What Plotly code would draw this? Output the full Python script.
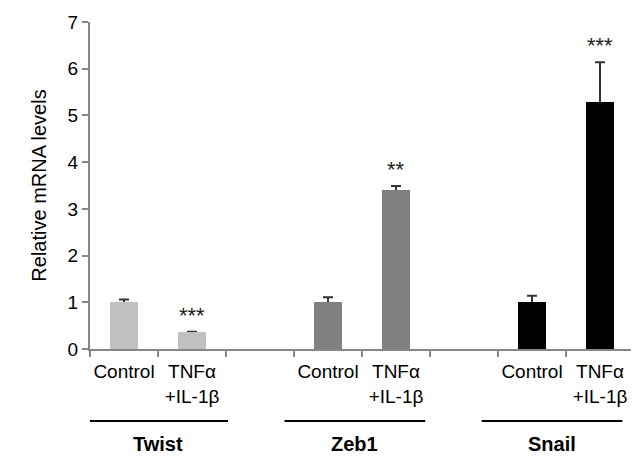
import plotly.graph_objects as go

genes = ["Twist", "Zeb1", "Snail"]
conditions = ["Control", "TNFα<br>+IL-1β"]
twist_vals = [1.00, 0.36]
twist_err = [0.06, 0.01]
zeb1_vals = [1.00, 3.41]
zeb1_err = [0.11, 0.08]
snail_vals = [1.00, 5.29]
snail_err = [0.14, 0.85]
twist_sig = ["", "***"]
zeb1_sig = ["", "**"]
snail_sig = ["", "***"]
colors = ["#c0c0c0", "#808080", "#000000"]
y_ticks = [0, 1, 2, 3, 4, 5, 6, 7]

FONT = "Liberation Sans, Arial, sans-serif"
series = [
    (twist_vals, twist_err, twist_sig),
    (zeb1_vals, zeb1_err, zeb1_sig),
    (snail_vals, snail_err, snail_sig),
]

fig = go.Figure()
annotations = []
shapes = []
label_pos = []
label_text = []
for g, (vals, errs, sigs) in enumerate(series):
    xs = [3 * g + i for i in range(len(vals))]
    # error bars on the base subplot (drawn beneath the bars, so only the upper whisker shows)
    fig.add_trace(go.Scatter(
        x=xs, y=vals, mode="markers", marker=dict(size=1, opacity=0),
        error_y=dict(type="data", array=errs, symmetric=False, arrayminus=[0.05] * len(errs),
                     color="#333333", thickness=2, width=5),
        xaxis="x", yaxis="y", showlegend=False, hoverinfo="skip",
    ))
    fig.add_trace(go.Bar(
        x=xs, y=vals, width=0.41, marker=dict(color=colors[g], line=dict(width=0)),
        name=genes[g], showlegend=False, xaxis="x2", yaxis="y",
    ))
    for x, v, e, s in zip(xs, vals, errs, sigs):
        label_pos.append(x)
        if s:
            annotations.append(dict(x=x, y=v + e, xref="x", yref="y", text=s, showarrow=False,
                                    yanchor="bottom", yshift=2,
                                    font=dict(family=FONT, size=22, color="#222")))
    label_text += conditions
    x0 = 2.9 * g - 0.54
    shapes.append(dict(type="line", xref="x", yref="paper", x0=x0, x1=x0 + 2.07,
                       y0=-0.22, y1=-0.22, line=dict(color="black", width=2)))
    annotations.append(dict(x=x0 + 1.035, y=-0.29, xref="x", yref="paper", text="<b>%s</b>" % genes[g],
                            showarrow=False, yanchor="middle",
                            font=dict(family=FONT, size=20, color="black")))

fig.update_layout(
    width=631, height=450,
    margin=dict(l=82, r=5, t=13.5, b=108.5, autoexpand=False),
    plot_bgcolor="white", paper_bgcolor="white",
    font=dict(family=FONT, size=19, color="black"),
    bargap=0,
    xaxis=dict(range=[-0.5, 7.5], tickmode="array", automargin=False,
               tickvals=[i - 0.5 for i in range(9)], showticklabels=False,
               ticks="outside", ticklen=6, tickcolor="#868686", tickwidth=1.5,
               showline=True, linecolor="#868686", linewidth=2, showgrid=False, zeroline=False),
    xaxis2=dict(range=[-0.5, 7.5], overlaying="x", anchor="y", side="bottom", automargin=False,
                tickmode="array", tickvals=label_pos, ticktext=label_text,
                ticks="outside", ticklen=5, tickcolor="rgba(0,0,0,0)",
                showline=False, showgrid=False, zeroline=False,
                tickfont=dict(family=FONT, size=19, color="black")),
    yaxis=dict(range=[0, 7], tickvals=y_ticks, ticks="outside", ticklen=6, automargin=False,
               tickcolor="#868686", tickwidth=1.5, showline=True, linecolor="#868686",
               linewidth=2, showgrid=False, zeroline=False,
               tickfont=dict(family=FONT, size=19, color="black"),
               title=dict(text="Relative mRNA levels", standoff=16,
                          font=dict(family=FONT, size=20, color="black"))),
    annotations=annotations, shapes=shapes,
)
fig.write_html("out.html")
